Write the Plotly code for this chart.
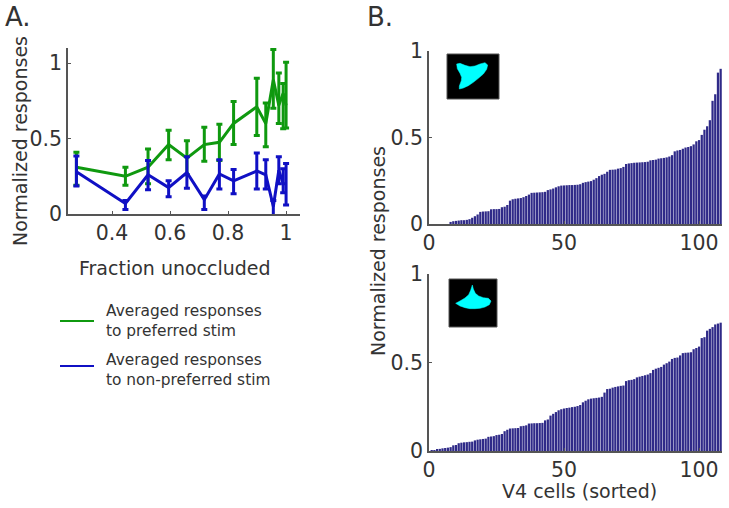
import plotly.graph_objects as go

W, H = 729, 508
FONT = "DejaVu Sans"
INK = "#333333"
AXIS = "#555555"
GREEN = "#0f990f"
BLUE = "#1010c4"

# Panel A
fraction = [0.277, 0.446, 0.524, 0.595, 0.658, 0.718, 0.770, 0.819, 0.899, 0.930, 0.956, 0.975, 0.990, 1.000]
pref_mean = [0.31, 0.25, 0.31, 0.46, 0.37, 0.46, 0.475, 0.60, 0.71, 0.60, 0.89, 0.72, 0.80, 0.72]
pref_hi = [0.41, 0.31, 0.43, 0.555, 0.485, 0.575, 0.595, 0.745, 0.90, 0.735, 1.09, 0.935, 0.865, 1.005]
pref_lo = [0.19, 0.19, 0.20, 0.36, 0.26, 0.35, 0.355, 0.46, 0.52, 0.445, 0.70, 0.60, 0.565, 0.57]
non_mean = [0.28, 0.07, 0.26, 0.175, 0.275, 0.095, 0.265, 0.22, 0.285, 0.26, 0.05, 0.29, 0.20, 0.20]
non_hi = [0.385, 0.09, 0.355, 0.22, 0.38, 0.12, 0.36, 0.295, 0.405, 0.36, 0.09, 0.38, 0.30, 0.335]
non_lo = [0.185, 0.03, 0.16, 0.115, 0.17, 0.03, 0.165, 0.135, 0.165, 0.165, -0.02, 0.20, 0.14, 0.06]

# Panel B
cells = list(range(1, 109))
resp_top = [0, 0, 0, 0, 0, 0, 0,
    .012, .016, .018, .02, .022, .022, .024, .028, .036, .045, .055, .07, .072, .073, .074, .085, .086, .086, .087,
    .097, .10, .11, .135, .143, .146, .148, .15, .155, .162, .17, .18, .181, .182, .183, .184, .186, .196, .2, .205,
    .212, .218, .222, .223, .224, .225, .225, .226, .227, .23, .238, .242, .245, .248, .256, .265, .277, .285, .29,
    .302, .313, .314, .315, .32, .323, .33, .347, .35, .352, .354, .355, .356, .357, .358, .36, .368, .37, .372, .378,
    .38, .382, .385, .39, .398, .42, .425, .428, .435, .442, .445, .45, .46, .478, .485, .515, .545, .565, .60, .712,
    .75, .875, .897]
resp_bottom = [.001, .003, .007, .012, .015, .017, .019, .022, .032, .034, .044, .047, .049, .05, .052, .053, .06, .064,
    .066, .068, .07, .08, .082, .084, .09, .092, .096, .112, .12, .127, .128, .129, .13, .14, .142, .145, .155, .156,
    .157, .157, .158, .159, .173, .178, .2, .21, .22, .23, .236, .24, .243, .245, .248, .25, .254, .26, .275, .284,
    .292, .296, .298, .3, .302, .306, .33, .35, .352, .358, .362, .365, .368, .37, .395, .4, .402, .406, .416, .42,
    .424, .428, .432, .44, .458, .465, .47, .475, .488, .496, .505, .52, .526, .528, .54, .553, .555, .556, .558,
    .575, .582, .59, .638, .643, .68, .69, .70, .715, .72, .725]

legend_pref = "Averaged responses<br>to preferred stim"
legend_non = "Averaged responses<br>to non-preferred stim"

def px(x): return x / W
def py(y): return 1 - y / H

def errs(mean, hi, lo):
    return dict(type="data", symmetric=False,
                array=[h - m for h, m in zip(hi, mean)],
                arrayminus=[m - l for m, l in zip(mean, lo)])

fig = go.Figure()
for name, mean, hi, lo, col in [
    (legend_pref, pref_mean, pref_hi, pref_lo, GREEN),
    (legend_non, non_mean, non_hi, non_lo, BLUE),
]:
    fig.add_trace(go.Scatter(
        x=fraction, y=mean, name=name, mode="lines", showlegend=False,
        line=dict(color=col, width=3),
        error_y=dict(**errs(mean, hi, lo), color=col, thickness=3, width=3),
        cliponaxis=False, xaxis="x", yaxis="y"))

BAR = "#2f2a88"
fig.add_trace(go.Bar(x=cells, y=resp_top, marker=dict(color=BAR, line_width=0), xaxis="x2", yaxis="y2", showlegend=False))
fig.add_trace(go.Bar(x=cells, y=resp_bottom, marker=dict(color=BAR, line_width=0), xaxis="x3", yaxis="y3", showlegend=False))

axis_style = dict(showgrid=False, zeroline=False, showline=True, linecolor=AXIS, linewidth=1.5,
                  ticks="inside", ticklen=3, tickwidth=1, tickcolor=AXIS, automargin=False,
                  tickfont=dict(family=FONT, size=20.5, color=INK))

shapes = []
def inset(x0, y0, x1, y1, pts):
    shapes.append(dict(type="rect", xref="paper", yref="paper", x0=px(x0), x1=px(x1), y0=py(y0), y1=py(y1),
                       fillcolor="black", line=dict(color="#555555", width=1), layer="above"))
    d = "M " + " L ".join(f"{px(x):.5f},{py(y):.5f}" for x, y in pts) + " Z"
    shapes.append(dict(type="path", xref="paper", yref="paper", path=d, fillcolor="#00ffff",
                       line=dict(color="#00ffff", width=0.5), layer="above"))

z1 = [(110,72),(120,70),(135,76),(150,80),(165,78),(180,72),(195,68),(203,75),(200,88),(190,102),(175,115),(160,127),
      (145,137),(130,144),(118,147),(118,138),(124,122),(125,112),(120,100),(112,86)]
inset(447, 54, 499, 99, [(420 + x / 3, 40 + y / 3) for x, y in z1])
z2 = [(157,60),(160,72),(166,85),(176,93),(190,98),(205,100),(213,108),(208,119),(195,126),(180,130),(165,131),(150,131),
      (135,128),(120,123),(107,115),(120,108),(135,99),(146,89),(152,76)]
inset(449, 279, 497, 327, [(420 + x / 3, 265 + y / 3) for x, y in z2])

# legend keys
for y, col in [(321, GREEN), (366, BLUE)]:
    shapes.append(dict(type="line", xref="paper", yref="paper", x0=px(60), x1=px(94), y0=py(y), y1=py(y),
                       line=dict(color=col, width=2.2)))

def note(x, y, text, size=19, xanchor="center", **kw):
    return dict(x=px(x), y=py(y), xref="paper", yref="paper", text=text, showarrow=False,
                xanchor=xanchor, yanchor="middle",
                font=dict(family=FONT, size=size, color=INK), **kw)

fig.update_layout(
    width=W, height=H, autosize=False, margin=dict(l=0, r=0, t=0, b=0),
    paper_bgcolor="white", plot_bgcolor="white", bargap=0.17,
    showlegend=False,
    shapes=shapes,
    annotations=[
        note(18, 17, "A.", 26),
        note(380, 17, "B.", 26),
        note(20, 141, "Normalized responses", textangle=-90),
        note(175, 268, "Fraction unoccluded"),
        note(378, 251, "Normalized responses", textangle=-90),
        note(579, 491, "V4 cells (sorted)"),
        note(104, 321, legend_pref, 15.4, xanchor="left", align="left"),
        note(104, 370, legend_non, 15.4, xanchor="left", align="left"),
    ],
    xaxis=dict(domain=[px(68), px(300)], range=[0.248, 1.048], anchor="y",
               tickvals=[0.4, 0.6, 0.8, 1], ticktext=["0.4", "0.6", "0.8", "1"], **axis_style),
    yaxis=dict(domain=[py(214), py(48)], range=[0, 1.1], anchor="x",
               tickvals=[0, 0.5, 1], ticktext=["0", "0.5", "1"], **axis_style),
    xaxis2=dict(domain=[px(429), px(722)], range=[0, 108.5], anchor="y2", tickvals=[0, 50, 100], **axis_style),
    yaxis2=dict(domain=[py(224), py(51)], range=[0, 1], anchor="x2",
                tickvals=[0, 0.5, 1], ticktext=["0", "0.5", "1"], **axis_style),
    xaxis3=dict(domain=[px(429), px(722)], range=[0, 108.5], anchor="y3", tickvals=[0, 50, 100], **axis_style),
    yaxis3=dict(domain=[py(451), py(274)], range=[0, 1], anchor="x3",
                tickvals=[0, 0.5, 1], ticktext=["0", "0.5", "1"], **axis_style),
)
fig.write_html("out.html", config=dict(displayModeBar=False), post_script="document.body.style.margin='0';")
